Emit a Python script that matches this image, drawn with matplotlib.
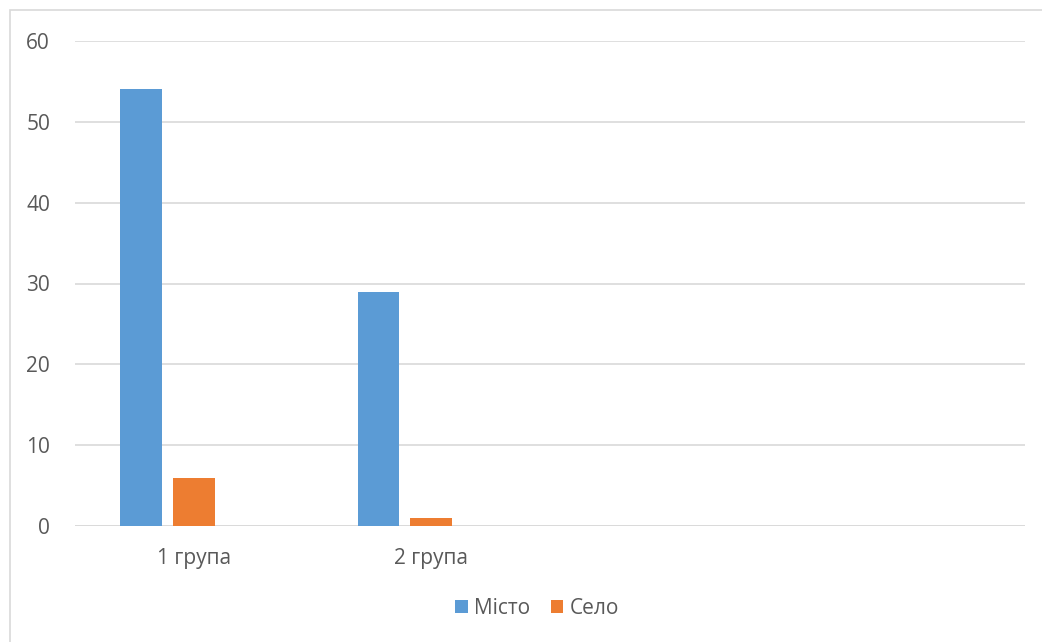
import numpy as np
import matplotlib.pyplot as plt
from matplotlib.patches import Rectangle

plt.rcParams['font.family'] = ['Open Sans', 'DejaVu Sans']

# дані
categories = ['1 група', '2 група', '', '']
misto = [54, 29, 0, 0]
selo = [6, 1, 0, 0]
series_names = ['Місто', 'Село']

fig = plt.figure(figsize=(10.42, 6.42), dpi=100)
ax = fig.add_axes([75 / 1042, 1 - 526 / 642, 950 / 1042, 485 / 642])

# рамка діаграми
fig.patches.append(Rectangle((10 / 1042, -0.1), 1.2, 1 - 10 / 642 + 0.1,
                             transform=fig.transFigure, fill=False,
                             edgecolor='#d9d9d9', linewidth=1.2))

x = np.arange(len(categories))
w = 0.175
off = 0.222
idx = [0, 1]
ax.bar(x[idx] - off, [misto[i] for i in idx], w, color='#5B9BD5', label=series_names[0], zorder=3)
ax.bar(x[idx], [selo[i] for i in idx], w, color='#ED7D31', label=series_names[1], zorder=3)

ax.set_xlim(-0.5, 3.5)
ax.set_ylim(0, 60)
ax.set_yticks(range(0, 61, 10))
ax.set_xticks(x)
ax.set_xticklabels(categories)
ax.grid(axis='y', color='#d9d9d9', linewidth=1.2, zorder=0)
for s in ax.spines.values():
    s.set_visible(False)
ax.axhline(0, color='#d9d9d9', linewidth=1.2, zorder=2)
ax.tick_params(length=0, labelsize=15, colors='#595959')
ax.tick_params(axis='y', pad=18)
ax.tick_params(axis='x', pad=16)

fig.legend(loc='center', bbox_to_anchor=(537 / 1042, 1 - 608 / 642), ncol=2,
           frameon=False, fontsize=15, labelcolor='#595959',
           handlelength=0.6, handleheight=0.6, handletextpad=0.3, columnspacing=1.0)

fig.savefig('out.png', dpi=100)
